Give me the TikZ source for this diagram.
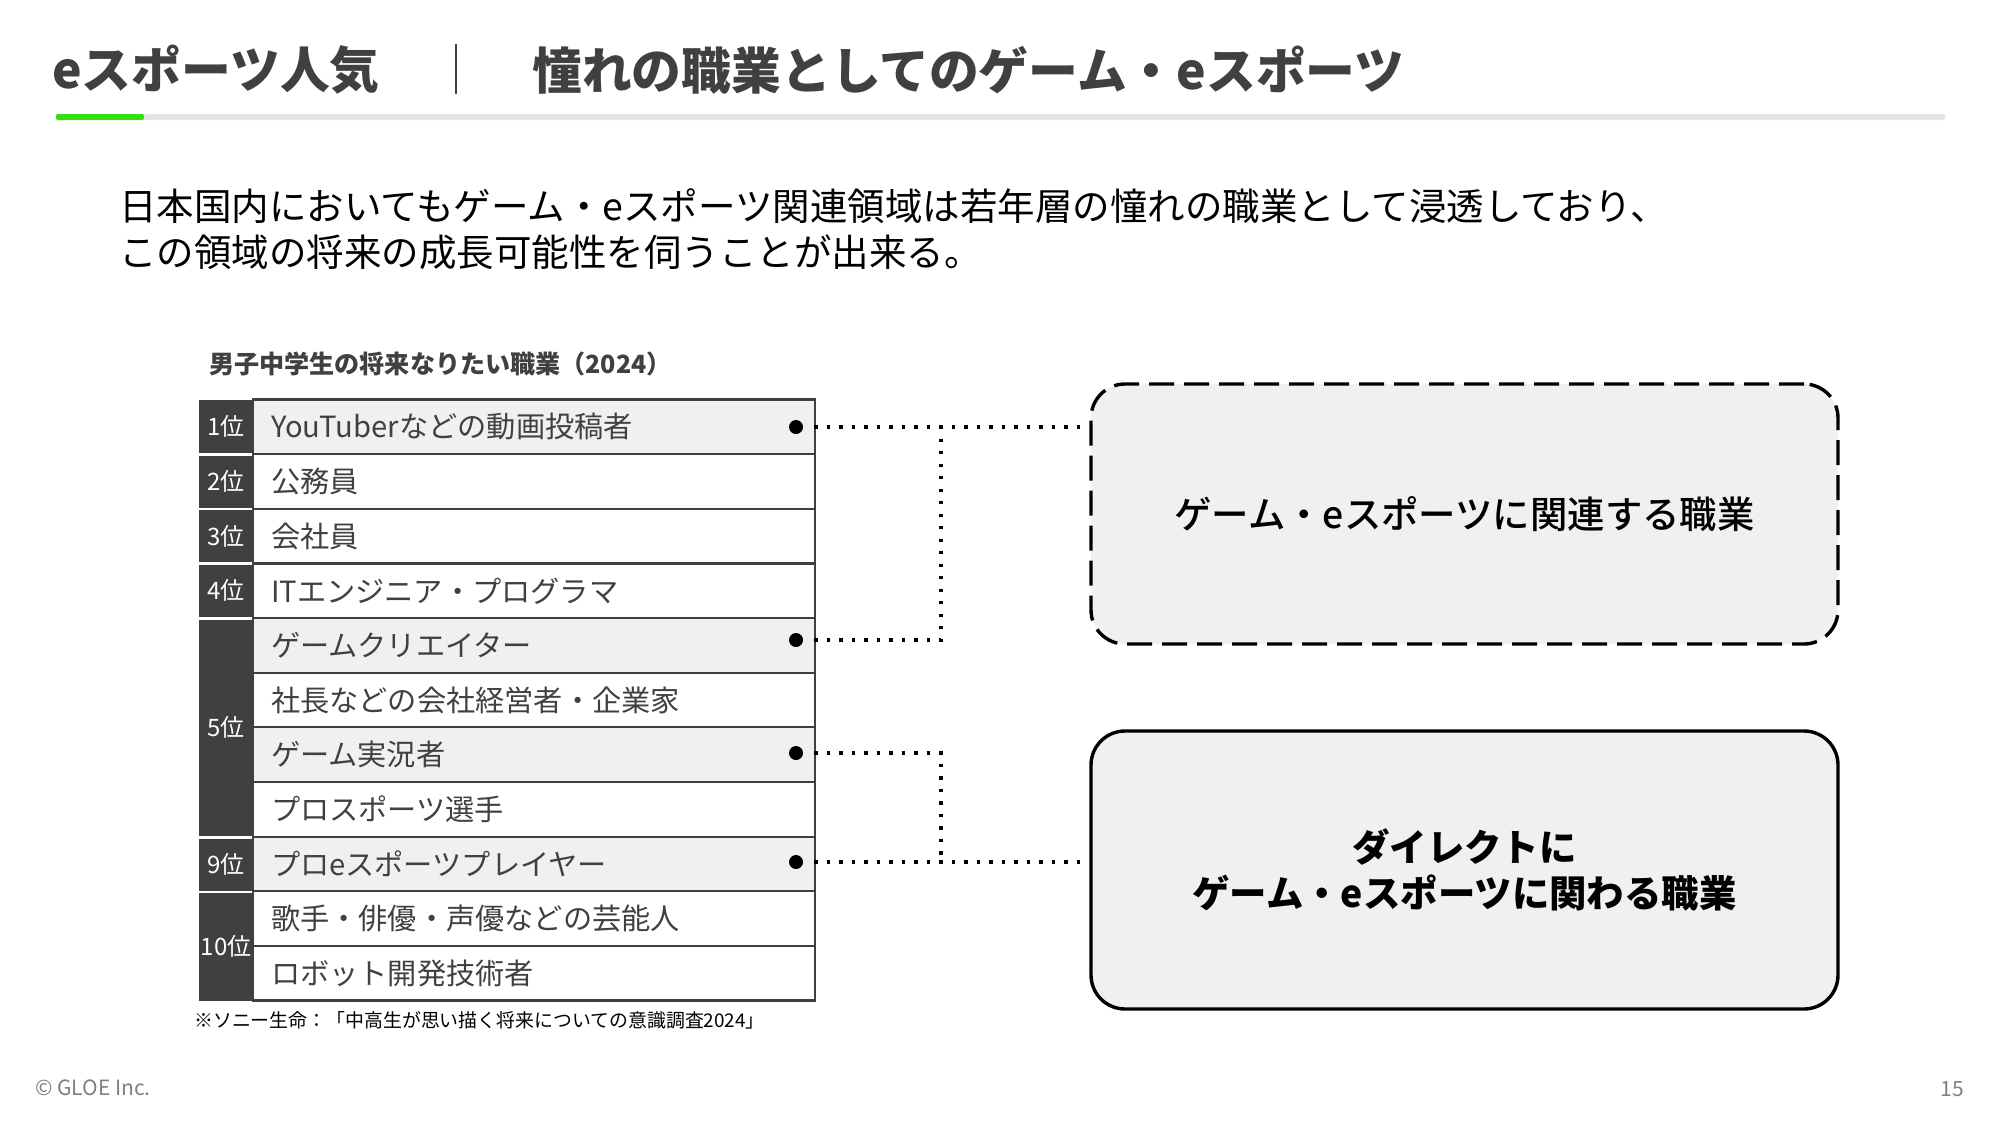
\documentclass[tikz,border=0pt]{standalone}
\usepackage{fontspec}
\setmainfont{Noto Sans CJK JP}
\newfontfamily\medfont{Noto Sans CJK JP Medium}
\definecolor{inkgray}{HTML}{404040}
\definecolor{rowgray}{HTML}{F0F0F0}
\definecolor{barlime}{HTML}{35E012}
\newcommand{\fsz}[2]{\fontsize{#1}{#2}\selectfont}
\tikzset{
  titletext/.style={text=inkgray, font=\fsz{49.8}{50}\bfseries, anchor=west, inner sep=0pt},
  rowbox/.style={draw=inkgray, line width=2.2pt, outer sep=0pt, rectangle, anchor=north west, minimum height=54.64pt, text width=526pt, align=left, inner xsep=18pt, inner ysep=0pt, text=inkgray, font=\fsz{29.2}{34}},
  rankbox/.style={fill=inkgray, text=white, rectangle, minimum width=54pt, inner sep=0pt, font=\fsz{24}{28}},
  pindot/.style={circle, fill=black, minimum size=14pt, inner sep=0pt},
  linkdot/.style={line width=3.3pt, dash pattern=on 3.3pt off 9.2pt, black},
  groupbox/.style={rectangle, rounded corners=34pt, fill=rowgray, draw=black, line width=3.4pt, minimum width=747pt, align=center, text=black},
}
\begin{document}
\begin{tikzpicture}[x=1pt,y=-1pt]
  \useasboundingbox[fill=white] (0,0) rectangle (2000,1125);
  % header
  \node[titletext] (headA) at (52,70) {eスポーツ人気};
  \node[titletext] (headB) at (532,70) {憧れの職業としてのゲーム・eスポーツ};
  \draw[inkgray, line width=2pt] (456,44) -- (456,94);
  \fill[rounded corners=2pt, gray!20] (56,114) rectangle (1945,120);
  \fill[rounded corners=2pt, barlime] (56,114) rectangle (144,120);
  \node[anchor=north west, inner sep=0pt, align=left, font=\fsz{37.5}{46}] (lead) at (119,188)
    {日本国内においてもゲーム・eスポーツ関連領域は若年層の憧れの職業として浸透しており、\\
     この領域の将来の成長可能性を伺うことが出来る。};
  % table
  \node[anchor=west, inner sep=0pt, text=inkgray, font=\fsz{25.1}{30}\bfseries] (tabletitle) at (209,364) {男子中学生の将来なりたい職業（2024）};
  \foreach \n/\txt/\tint in {0/YouTuberなどの動画投稿者/rowgray, 1/公務員/white, 2/会社員/white, 3/ITエンジニア・プログラマ/white,
      4/ゲームクリエイター/rowgray, 5/社長などの会社経営者・企業家/white, 6/ゲーム実況者/rowgray, 7/プロスポーツ選手/white,
      8/プロeスポーツプレイヤー/rowgray, 9/歌手・俳優・声優などの芸能人/white, 10/ロボット開発技術者/white}
    \node[rowbox, fill=\tint] (row\n) at (253,399.5+54.64*\n) {\txt};
  \node[rankbox, minimum height=53pt] (rankA) at (226,426.5) {1位};
  \node[rankbox, minimum height=52pt] (rankB) at (226,481.5) {2位};
  \node[rankbox, minimum height=52pt] (rankC) at (226,536) {3位};
  \node[rankbox, minimum height=52pt] (rankD) at (226,590.5) {4位};
  \node[rankbox, minimum height=216pt] (rankE) at (226,727.5) {5位};
  \node[rankbox, minimum height=52pt] (rankF) at (226,864.5) {9位};
  \node[rankbox, minimum height=108pt] (rankG) at (226,946.5) {10位};
  \node[anchor=west, inner sep=0pt, text=black, font=\fsz{18.9}{24}] (source) at (194,1020) {※ソニー生命：「中高生が思い描く将来についての意識調査2024」};
  % right side
  \node[groupbox, dash pattern=on 25pt off 10pt, minimum height=260pt, font=\fsz{37.4}{46}\medfont] (relbox) at (1464.5,514) {ゲーム・eスポーツに関連する職業};
  \node[groupbox, minimum height=278pt, font=\fsz{37.4}{46}\bfseries] (dirbox) at (1464.5,870) {ダイレクトに\\ゲーム・eスポーツに関わる職業};
  \node[pindot] (dotA) at (796,427) {};
  \node[pindot] (dotB) at (796,640) {};
  \node[pindot] (dotC) at (796,753) {};
  \node[pindot] (dotD) at (796,862) {};
  \coordinate (jointA) at (941,427);
  \coordinate (jointB) at (941,862);
  \draw[linkdot, shorten <=11pt, shorten >=9pt] (dotA) -- (dotA -| relbox.west);
  \draw[linkdot, shorten <=11pt, shorten >=9pt] (dotD) -- (dotD -| dirbox.west);
  \draw[linkdot, shorten <=11pt] (dotB) -| (jointA);
  \draw[linkdot, shorten <=11pt] (dotC) -| (jointB);
  % footer
  \node[anchor=west, inner sep=0pt, text=gray, font=\fsz{21}{24}] (copy) at (35,1087.5) {© GLOE Inc.};
  \node[anchor=east, inner sep=0pt, text=gray, font=\fsz{21}{24}] (pageno) at (1964,1089.5) {15};
\end{tikzpicture}
\end{document}
